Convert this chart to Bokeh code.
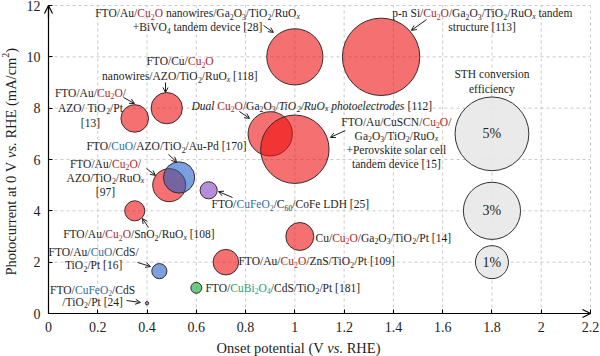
import math
from bokeh.plotting import figure
from bokeh.models import Range1d, FixedTicker, Label, Arrow, OpenHead, ColumnDataSource
from bokeh.embed import file_html
from bokeh.resources import INLINE

# ---------------- data ----------------
onset = [1.00, 1.35, 0.48, 0.35, 0.90, 1.00, 0.49, 0.53, 0.65, 0.35, 1.02, 0.72, 0.45, 0.60, 0.40]
photocurrent = [10.0, 10.0, 8.0, 7.6, 7.0, 6.4, 5.0, 5.3, 4.8, 4.0, 3.0, 2.0, 1.65, 1.0, 0.4]
sth = [2.9, 5.5, 0.9, 0.7, 1.8, 4.3, 1.0, 0.9, 0.27, 0.37, 0.72, 0.6, 0.21, 0.11, 0.01]
material = ["Cu2O", "Cu2O", "Cu2O", "Cu2O", "Cu2O", "Cu2O", "Cu2O", "CuO", "CuFeO2",
            "Cu2O", "Cu2O", "Cu2O", "CuO", "CuBi2O4", "CuFeO2"]
legend_sth = [5, 3, 1]
legend_photocurrent = [7, 4, 2]
legend_onset = [1.8, 1.8, 1.8]
x_ticks = [0, 0.2, 0.4, 0.6, 0.8, 1, 1.2, 1.4, 1.6, 1.8, 2, 2.2]
y_ticks = [0, 2, 4, 6, 8, 10, 12]

# ---------------- styles ----------------
FONT = "Liberation Serif, serif"
TEXT = "#1e1e1e"
FILL = {"Cu2O": "#ee0a0a", "CuO": "#1a5cc4", "CuFeO2": "#7f3bbb", "CuBi2O4": "#05a030"}
STYLE = {"r": ("#b02a2a", False), "b": ("#2f6ea3", False), "g": ("#2e9e6e", False), "i": (None, True)}
PX_PER_SQRT_STH = 33.0  # marker diameter for 1 % STH

W, H = 600, 356
X0PX, X1PX, Y0PX, Y1PX = 48, 590, 313, 5      # where 0 / 2.2 and 0 / 12 sit on the canvas
sx = (X1PX - X0PX) / (x_ticks[-1] - x_ticks[0])
sy = (Y0PX - Y1PX) / (y_ticks[-1] - y_ticks[0])
x_range = Range1d(x_ticks[0] - X0PX / sx, x_ticks[-1] + (W - X1PX) / sx)
y_range = Range1d(y_ticks[0] - (H - Y0PX) / sy, y_ticks[-1] + Y1PX / sy)

p = figure(width=W, height=H, x_range=x_range, y_range=y_range,
           output_backend="svg", toolbar_location=None,
           min_border_left=0, min_border_right=0, min_border_top=0, min_border_bottom=0)
p.outline_line_color = None
p.background_fill_color = "white"
p.border_fill_color = "white"
p.xgrid.visible = False
p.ygrid.visible = False

for ax, ticks in ((p.xaxis, x_ticks), (p.yaxis, y_ticks)):
    ax.ticker = FixedTicker(ticks=ticks)
    ax.major_label_overrides = {t: f"{t:g}" for t in ticks}
    ax.fixed_location = 0
    ax.bounds = (ticks[0], ticks[-1])
    ax.minor_tick_line_color = None
    ax.major_tick_in = 4
    ax.major_tick_out = 0
    ax.major_tick_line_color = "black"
    ax.axis_line_color = "black"
    ax.axis_line_width = 1.2
    ax.major_label_text_font = FONT
    ax.major_label_text_font_size = "14px"
    ax.major_label_text_color = TEXT
    ax.major_label_standoff = 8

# dashed grid inside the data region
p.segment(x0=x_ticks[1:], y0=[y_ticks[0]] * (len(x_ticks) - 1), x1=x_ticks[1:], y1=[y_ticks[-1]] * (len(x_ticks) - 1),
          line_color="#c8c8c8", line_dash="3 3", line_width=1)
p.segment(x0=[x_ticks[0]] * (len(y_ticks) - 1), y0=y_ticks[1:], x1=[x_ticks[-1]] * (len(y_ticks) - 1), y1=y_ticks[1:],
          line_color="#c8c8c8", line_dash="3 3", line_width=1)

# axis end arrows
p.add_layout(Arrow(end=OpenHead(size=8, line_width=1.2, line_color="black"),
                   x_start=2.1, y_start=0, x_end=2.2, y_end=0, line_width=1.2, line_color="black"))
p.add_layout(Arrow(end=OpenHead(size=8, line_width=1.2, line_color="black"),
                   x_start=0, y_start=11.5, x_end=0, y_end=12.0, line_width=1.2, line_color="black"))

# legend bubbles
leg = ColumnDataSource(dict(x=legend_onset, y=legend_photocurrent,
                            size=[PX_PER_SQRT_STH * math.sqrt(v) for v in legend_sth]))
p.scatter("x", "y", size="size", source=leg, marker="circle", fill_color="#e8e8e8", fill_alpha=0.9,
          line_color="#333333", line_width=1)

# data bubbles
src = ColumnDataSource(dict(x=onset, y=photocurrent,
                            size=[PX_PER_SQRT_STH * math.sqrt(v) for v in sth],
                            color=[FILL[m] for m in material]))
p.scatter("x", "y", size="size", source=src, marker="circle", fill_color="color", fill_alpha=0.58,
          line_color="#3a2a2a", line_width=1)

# ---------------- rich text helpers ----------------
ROMAN = {' ': 250, '!': 333, '%': 833, '(': 333, ')': 333, '+': 564, ',': 250, '-': 333, '.': 250,
         '/': 278, '[': 333, ']': 333, ':': 278,
         'A': 722, 'B': 667, 'C': 667, 'D': 722, 'E': 611, 'F': 556, 'G': 722, 'H': 722, 'I': 333,
         'J': 389, 'K': 722, 'L': 611, 'M': 889, 'N': 722, 'O': 722, 'P': 556, 'Q': 722, 'R': 667,
         'S': 556, 'T': 611, 'U': 722, 'V': 722, 'W': 944, 'X': 722, 'Y': 722, 'Z': 611,
         'a': 444, 'b': 500, 'c': 444, 'd': 500, 'e': 444, 'f': 333, 'g': 500, 'h': 500, 'i': 278,
         'j': 278, 'k': 500, 'l': 278, 'm': 778, 'n': 500, 'o': 500, 'p': 500, 'q': 500, 'r': 333,
         's': 389, 't': 278, 'u': 500, 'v': 500, 'w': 722, 'x': 500, 'y': 500, 'z': 444}
for d in "0123456789":
    ROMAN[d] = 500
ITALIC = dict(ROMAN)
ITALIC.update({'A': 611, 'B': 611, 'F': 611, 'L': 556, 'M': 833, 'N': 667, 'P': 611, 'R': 611, 'S': 500,
               'T': 556, 'V': 611, 'W': 833, 'Z': 556, 'a': 500, 'f': 278, 'k': 444, 'm': 722, 'r': 389,
               'v': 444, 'w': 667, 'x': 444, 'y': 444, 'z': 389, '[': 389, ']': 389, '+': 675})
SUB = 0.68


def text_w(t, size, italic):
    tab = ITALIC if italic else ROMAN
    return sum(tab.get(c, 500) for c in t) * size / 1000.0


def parse(s, base_italic=False):
    segs = []
    color, italic = TEXT, base_italic
    stack = []

    def add(t, kind, it):
        if segs and segs[-1][1:] == (color, it, kind):
            segs[-1] = (segs[-1][0] + t, color, it, kind)
        else:
            segs.append((t, color, it, kind))

    i = 0
    while i < len(s):
        c = s[i]
        if c == "{":
            stack.append((color, italic))
            col, it = STYLE[s[i + 1]]
            color = col or color
            italic = italic or it
            i += 3
            continue
        if c == "}":
            color, italic = stack.pop()
            i += 1
            continue
        if c in "_^":
            kind = "sub" if c == "_" else "sup"
            if s[i + 1] == "(":
                j = s.index(")", i)
                t = s[i + 2:j]
                i = j + 1
            else:
                t = s[i + 1]
                i += 2
            add(t, kind, italic or t.isalpha())
            continue
        add(c, "n", italic)
        i += 1
    return segs


def rich(x, y, markup, size, align="center", dy=0.0, rotated=False, base_italic=False, font=FONT):
    segs = parse(markup, base_italic)
    sizes = [size * SUB if k != "n" else size for _, _, _, k in segs]
    widths = [text_w(t, fs, it) for (t, _, it, _), fs in zip(segs, sizes)]
    total = sum(widths)
    pos = {"left": 0.0, "center": -total / 2.0, "right": -total}[align]
    for (t, col, it, k), fs, w in zip(segs, sizes, widths):
        shift = {"n": 0.0, "sub": -0.27 * size, "sup": 0.36 * size}[k]
        lead = len(t) - len(t.lstrip(" "))
        vis = t.strip(" ")
        if vis:
            along = pos + text_w(" " * lead, fs, it)
            if rotated:
                xo, yo = -(shift + dy), along
            else:
                xo, yo = along, dy + shift
            p.add_layout(Label(x=x, y=y, x_offset=xo, y_offset=yo, text=vis, text_font=font,
                               text_font_size=f"{fs:.1f}px", text_color=col,
                               text_font_style="italic" if it else "normal",
                               text_align="left", text_baseline="middle",
                               angle=math.pi / 2 if rotated else 0))
        pos += w


# ---------------- annotations ----------------
ANN = 11.5
annotations = [
    (0.605, 11.69, "center", 14, ["FTO/Au/{r|Cu_2O} nanowires/Ga_2O_3/TiO_2/RuO_x", "+BiVO_4 tandem device [28]"]),
    (1.761, 11.69, "center", 14, ["p-n Si/{r|Cu_2O}/Ga_2O_3/TiO_2/RuO_x tandem", "structure [113]"]),
    (0.534, 9.82, "center", 15, ["FTO/Cu/{r|Cu_2O}", "nanowires/AZO/TiO_2/RuO_x [118]"]),
    (0.170, 8.61, "center", 15, ["FTO/Au/{r|Cu_2O}/", "AZO/ TiO_2/Pt", "[13]"]),
    (0.580, 8.10, "left", 14, ["{i|Dual} {r|Cu_2O}/Ga_2O_3/{i|TiO_2/RuO_x photoelectrodes} [112]"]),
    (1.412, 7.48, "center", 14, ["FTO/Au/CuSCN/{r|Cu_2O}/", "Ga_2O_3/TiO_2/RuO_x", "+Perovskite solar cell", "tandem device [15]"]),
    (1.800, 9.35, "center", 15, ["STH conversion", "efficiency"]),
    (0.154, 6.51, "left", 14, ["FTO/{b|CuO}/AZO/TiO_2/Au-Pd [170]"]),
    (0.231, 5.84, "center", 14, ["FTO/Au/{r|Cu_2O}/", "AZO/TiO_2/RuO_x", "[97]"]),
    (0.662, 4.25, "left", 14, ["FTO/{b|CuFeO_2}/C_(60)/CoFe LDH [25]"]),
    (0.367, 3.08, "center", 14, ["FTO/Au/{r|Cu_2O}/SnO_2/RuO_x [108]"]),
    (1.084, 2.96, "left", 14, ["Cu/{r|Cu_2O}/Ga_2O_3/TiO_2/Pt [14]"]),
    (0.771, 2.03, "left", 14, ["FTO/Au/{r|Cu_2O}/ZnS/TiO_2/Pt [109]"]),
    (0.183, 2.38, "center", 13, ["FTO/Au/{b|CuO}/CdS/", "TiO_2/Pt [16]"]),
    (0.637, 1.01, "left", 14, ["FTO/{g|CuBi_2O_4}/CdS/TiO_2/Pt [181]"]),
    (0.179, 0.935, "center", 12, ["FTO/{b|CuFeO_2}/CdS", "/TiO_2/Pt [24]"]),
]
for ax_, ay_, al, sp, lines in annotations:
    for k, ln in enumerate(lines):
        rich(ax_, ay_, ln, ANN, align=al, dy=-k * sp)

pointers = [
    (0.873, 11.22, 0.913, 10.95), (1.534, 11.45, 1.473, 11.03), (0.475, 9.00, 0.475, 8.61),
    (0.304, 8.42, 0.349, 8.18), (0.775, 7.87, 0.816, 7.60), (1.205, 7.13, 1.144, 6.86),
    (0.487, 6.20, 0.520, 5.90), (0.398, 5.65, 0.434, 5.38), (0.747, 4.52, 0.690, 4.75),
    (0.406, 3.35, 0.381, 3.70), (0.361, 1.99, 0.414, 1.83), (0.317, 0.506, 0.373, 0.43),
]
for x0, y0, x1, y1 in pointers:
    p.add_layout(Arrow(end=OpenHead(size=5, line_width=1, line_color=TEXT),
                       x_start=x0, y_start=y0, x_end=x1, y_end=y1, line_width=1, line_color=TEXT))

# percent labels inside legend bubbles
for lx, ly, lv in zip(legend_onset, legend_photocurrent, legend_sth):
    p.add_layout(Label(x=lx, y=ly, text=f"{lv}%", text_font=FONT, text_font_size="14px",
                       text_color=TEXT, text_align="center", text_baseline="middle"))

# axis titles
rich(1.015, -1.325, "Onset potential (V {i|vs.} RHE)", 14.5, align="center")
rich(-0.153, 1.48, "Photocurrent at 0 V {i|vs.} RHE (mA/cm^2)", 14.5, align="left", rotated=True)

open("out.html", "w").write(file_html(p, INLINE))
